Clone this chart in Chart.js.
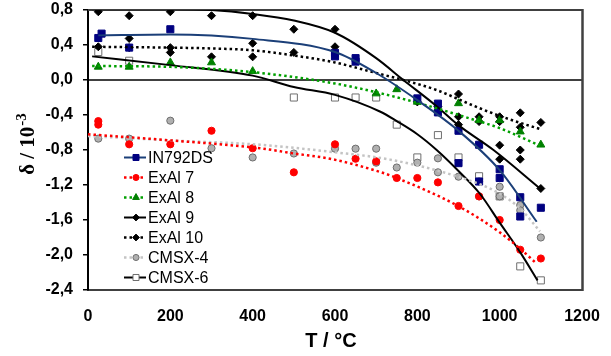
<!DOCTYPE html>
<html><head><meta charset="utf-8">
<script src="https://cdn.jsdelivr.net/npm/chart.js@4.4.0/dist/chart.umd.min.js"></script>
<style>html,body{margin:0;padding:0;background:#fff;}canvas{display:block}</style>
</head><body>
<canvas id="c" width="611" height="356"></canvas>
<script>
// ---- tick labels ----
const xTicks = [0, 200, 400, 600, 800, 1000, 1200];
const yTicks = [0.8, 0.4, 0.0, -0.4, -0.8, -1.2, -1.6, -2.0, -2.4];
const seriesNames = ['IN792DS', 'ExAl 7', 'ExAl 8', 'ExAl 9', 'ExAl 10', 'CMSX-4', 'CMSX-6'];

// ---- measured points (T in °C, delta in 10^-3) ----
const in792T = [25, 33, 100, 200, 600, 600, 650, 650, 800, 850, 850, 900, 900, 950, 950, 1000, 1000, 1050, 1050, 1100];
const in792D = [0.48, 0.53, 0.37, 0.58, 0.27, 0.31, 0.25, 0.21, -0.21, -0.27, -0.37, -0.58, -0.95, -0.74, -1.16, -1.02, -1.12, -1.34, -1.56, -1.46];

const exal7T = [25, 25, 100, 200, 300, 400, 500, 600, 650, 700, 750, 800, 850, 900, 950, 1000, 1050, 1100];
const exal7D = [-0.47, -0.51, -0.735, -0.735, -0.58, -0.78, -1.055, -0.735, -0.90, -0.93, -1.12, -1.12, -1.17, -1.44, -1.33, -1.60, -1.94, -2.04];

const exal8T = [25, 100, 200, 300, 400, 700, 750, 800, 850, 900, 950, 1000, 1050, 1100];
const exal8D = [0.15, 0.15, 0.20, 0.20, 0.10, -0.155, -0.107, -0.25, -0.33, -0.267, -0.46, -0.46, -0.59, -0.74];

const exal9T = [25, 100, 200, 300, 400, 500, 600, 800, 850, 900, 1000, 1000, 1050, 1050, 1100];
const exal9D = [0.78, 0.735, 0.78, 0.735, 0.735, 0.58, 0.58, -0.25, -0.305, -0.51, -0.745, -0.905, -0.80, -0.905, -1.24];

const exal10T = [25, 100, 100, 200, 200, 300, 400, 400, 500, 600, 900, 900, 950, 950, 1000, 1000, 1050, 1050, 1100];
const exal10D = [0.38, 0.475, 0.37, 0.37, 0.315, 0.265, 0.42, 0.265, 0.315, 0.38, -0.16, -0.42, -0.42, -0.475, -0.42, -0.475, -0.375, -0.54, -0.485];

const cmsx4T = [25, 100, 200, 300, 400, 500, 600, 650, 700, 700, 750, 800, 850, 850, 900, 950, 950, 1000, 1000, 1050, 1050, 1100];
const cmsx4D = [-0.67, -0.67, -0.465, -0.78, -0.885, -0.84, -0.785, -0.785, -0.785, -0.945, -1.0, -0.945, -0.895, -1.055, -1.105, -1.16, -1.33, -1.22, -1.33, -1.43, -1.49, -1.80];

const cmsx6T = [25, 100, 500, 600, 650, 700, 750, 800, 850, 900, 950, 1000, 1050, 1100];
const cmsx6D = [0.32, 0.22, -0.2, -0.2, -0.2, -0.2, -0.51, -0.885, -0.63, -0.885, -1.10, -1.33, -2.13, -2.29];

// ---- trend curves ----
const in792FitT = [25, 200, 400, 600, 700, 800, 900, 1000, 1090];
const in792FitD = [0.51, 0.52, 0.47, 0.32, 0.08, -0.23, -0.58, -1.03, -1.62];

const exal7FitT = [0, 200, 418, 500, 588, 709, 750, 895, 1000, 1050, 1090];
const exal7FitD = [-0.62, -0.69, -0.78, -0.84, -0.90, -1.05, -1.12, -1.43, -1.74, -1.93, -2.10];

const exal8FitT = [10, 200, 400, 600, 709, 800, 928, 1000, 1098];
const exal8FitD = [0.16, 0.15, 0.09, -0.04, -0.15, -0.26, -0.44, -0.55, -0.75];

const exal9FitT = [10, 200, 300, 400, 500, 600, 700, 766, 847, 898, 985, 1098];
const exal9FitD = [0.81, 0.81, 0.80, 0.755, 0.68, 0.54, 0.25, 0.0, -0.30, -0.51, -0.80, -1.24];

const exal10FitT = [10, 200, 305, 400, 500, 600, 700, 766, 850, 900, 950, 1000, 1050, 1098];
const exal10FitD = [0.38, 0.37, 0.36, 0.34, 0.28, 0.20, 0.08, 0.0, -0.12, -0.22, -0.32, -0.41, -0.49, -0.56];

const cmsx4FitT = [0, 200, 418, 588, 734, 895, 993, 1050, 1098];
const cmsx4FitD = [-0.64, -0.69, -0.74, -0.82, -0.91, -1.10, -1.28, -1.47, -1.73];

const cmsx6FitT = [10, 200, 400, 500, 600, 709, 750, 800, 847, 900, 952, 1000, 1050, 1092];
const cmsx6FitD = [0.27, 0.17, 0.05, -0.08, -0.17, -0.36, -0.47, -0.62, -0.80, -1.04, -1.30, -1.63, -1.97, -2.29];

// ---- styles (kept separate from the values) ----
const styles = [
  {pt:'rect',    r:5,   fill:'#000080', stroke:'#000080', line:'#1b3f78', dash:[],       lw:2},
  {pt:'circle',  r:3.6, fill:'#ff0000', stroke:'#ff0000', line:'#ff0000', dash:[2.5,3], lw:2.5},
  {pt:'triangle',r:4.6, fill:'#008000', stroke:'#008000', line:'#00a000', dash:[2.5,3], lw:2.5},
  {pt:'rectRot', r:4,   fill:'#000000', stroke:'#000000', line:'#000000', dash:[],       lw:2},
  {pt:'rectRot', r:4,   fill:'#000000', stroke:'#000000', line:'#000000', dash:[2.5,3], lw:2.5},
  {pt:'circle',  r:3.6, fill:'#b0b0b0', stroke:'#6e6e6e', line:'#c4c4c4', dash:[2.5,3], lw:2.5},
  {pt:'rect',    r:5,   fill:'#ffffff', stroke:'#6e6e6e', line:'#000000', dash:[],       lw:2}
];
const pointSets = [[in792T,in792D],[exal7T,exal7D],[exal8T,exal8D],[exal9T,exal9D],[exal10T,exal10D],[cmsx4T,cmsx4D],[cmsx6T,cmsx6D]];
const fitSets = [[in792FitT,in792FitD],[exal7FitT,exal7FitD],[exal8FitT,exal8FitD],[exal9FitT,exal9FitD],[exal10FitT,exal10FitD],[cmsx4FitT,cmsx4FitD],[cmsx6FitT,cmsx6FitD]];

const toXY = (T, D) => T.map((t, i) => ({x: t, y: D[i]}));

const datasets = [];
seriesNames.forEach((name, i) => {
  const s = styles[i];
  datasets.push({
    label: name, data: toXY(pointSets[i][0], pointSets[i][1]), showLine: false,
    pointStyle: s.pt, pointRadius: s.r, pointBackgroundColor: s.fill, pointBorderColor: s.stroke,
    pointBorderWidth: 1, order: 1
  });
  datasets.push({
    label: name + ' fit', data: toXY(fitSets[i][0], fitSets[i][1]), showLine: true,
    pointRadius: 0, borderColor: s.line, borderWidth: s.lw, borderDash: s.dash,
    cubicInterpolationMode: 'monotone', fill: false, order: 0
  });
});

const fmt = v => Number(v).toFixed(1).replace('.', ',');

const decor = {
  id: 'decor',
  beforeDatasetsDraw(chart) {
    const {ctx, chartArea: a, scales} = chart;
    ctx.save();
    const y0 = scales.y.getPixelForValue(0);
    ctx.strokeStyle = '#000'; ctx.lineWidth = 1.5;
    ctx.beginPath(); ctx.moveTo(a.left, y0); ctx.lineTo(a.right, y0); ctx.stroke();
    ctx.strokeStyle = '#404040'; ctx.lineWidth = 2;
    ctx.beginPath(); ctx.moveTo(a.left, a.top); ctx.lineTo(a.right, a.top); ctx.stroke();
    ctx.lineWidth = 2.5;
    ctx.beginPath(); ctx.moveTo(a.right + 0.5, a.top - 1); ctx.lineTo(a.right + 0.5, a.bottom + 1); ctx.stroke();
    ctx.restore();
  },
  afterDraw(chart) {
    const {ctx} = chart;
    ctx.save();
    ctx.translate(28, 144.5);
    ctx.rotate(-Math.PI / 2);
    ctx.fillStyle = '#000';
    ctx.textBaseline = 'middle';
    ctx.textAlign = 'left';
    const mainF = 'bold 21px "Liberation Serif", "Times New Roman", serif';
    const supF = 'bold 15px "Liberation Serif", "Times New Roman", serif';
    ctx.font = mainF; const w1 = ctx.measureText('δ / 10').width;
    ctx.font = supF; const w2 = ctx.measureText('-3').width;
    const x0 = -(w1 + w2) / 2;
    ctx.font = mainF; ctx.fillText('δ / 10', x0, 1);
    ctx.font = supF; ctx.fillText('-3', x0 + w1 + 1, -6);
    ctx.restore();
    ctx.save();
    ctx.font = 'bold 20px "Liberation Sans", Arial, sans-serif';
    ctx.fillStyle = '#000'; ctx.textAlign = 'center'; ctx.textBaseline = 'middle';
    ctx.fillText('T / °C', 331, 341);
    ctx.restore();
    ctx.save();
    seriesNames.forEach((name, i) => {
      const s = styles[i];
      const y = 157.5 + 20 * i;
      ctx.strokeStyle = s.line; ctx.lineWidth = s.lw; ctx.setLineDash(s.dash);
      ctx.beginPath(); ctx.moveTo(124, y); ctx.lineTo(146, y); ctx.stroke();
      ctx.setLineDash([]);
      ctx.fillStyle = s.fill; ctx.strokeStyle = s.stroke; ctx.lineWidth = 1;
      Chart.helpers.drawPoint(ctx, {pointStyle: s.pt, radius: s.r * 0.85, borderWidth: 1}, 136, y);
      ctx.font = '16px "Liberation Sans", Arial, sans-serif';
      ctx.fillStyle = '#000'; ctx.textAlign = 'left'; ctx.textBaseline = 'middle';
      ctx.fillText(name, 148, y + 1);
    });
    ctx.restore();
  }
};

new Chart(document.getElementById('c'), {
  type: 'scatter',
  data: {datasets},
  options: {
    responsive: false, animation: false, devicePixelRatio: 1, events: [],
    layout: {padding: {left: 0, right: 29, top: 10, bottom: 0}},
    plugins: {legend: {display: false}, tooltip: {enabled: false}},
    scales: {
      x: {
        type: 'linear', min: 0, max: 1200,
        afterBuildTicks: sc => { sc.ticks = xTicks.map(v => ({value: v})); },
        afterFit: sc => { sc.height = 66; sc.paddingLeft = 0; sc.paddingRight = 0; },
        grid: {display: false, drawTicks: false},
        border: {display: true, color: '#404040', width: 2},
        ticks: {color: '#000', padding: 17, maxRotation: 0, callback: v => String(v),
          font: {family: '"Liberation Sans", Arial, sans-serif', size: 16, weight: 'bold'}}
      },
      y: {
        type: 'linear', min: -2.4, max: 0.8,
        afterBuildTicks: sc => { sc.ticks = yTicks.map(v => ({value: v})); },
        afterFit: sc => { sc.width = 88; sc.paddingTop = 0; sc.paddingBottom = 0; },
        grid: {display: true, drawOnChartArea: false, drawTicks: true, tickLength: 5, color: '#000', lineWidth: 1.5},
        border: {display: true, color: '#000', width: 2},
        ticks: {color: '#000', padding: 10, callback: v => fmt(v),
          font: {family: '"Liberation Sans", Arial, sans-serif', size: 16, weight: 'bold'}}
      }
    }
  },
  plugins: [decor]
});
</script>
</body></html>
